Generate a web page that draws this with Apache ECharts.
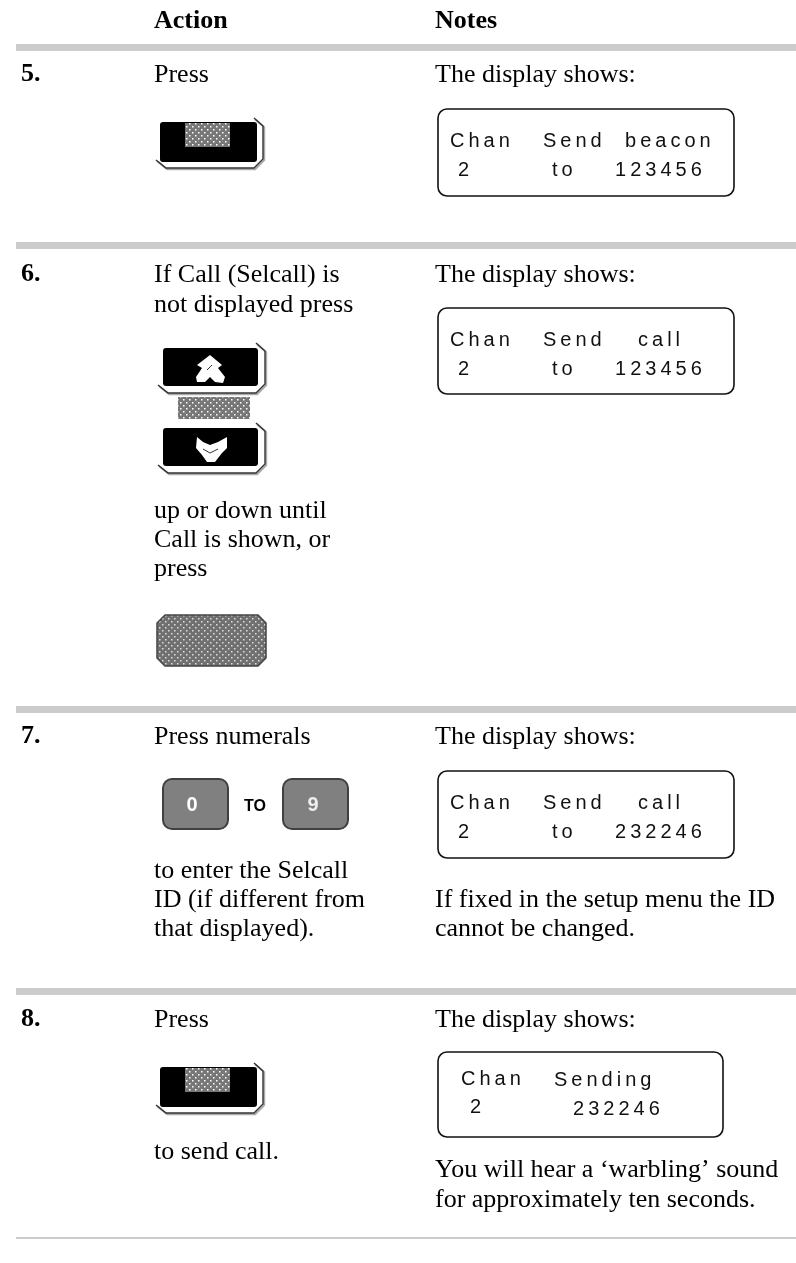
<!DOCTYPE html>
<html>
<head>
<meta charset="utf-8">
<style>html,body{margin:0;padding:0;background:#fff}#c{width:796px;height:1263px}</style>
<script src="https://cdn.jsdelivr.net/npm/echarts@6/dist/echarts.min.js"></script>
</head>
<body>
<div id="c"></div>
<script>
var headers = ['Action', 'Notes'];
var stepNumbers = ['5.', '6.', '7.', '8.'];
var actionLines = [
  ['Press'],
  ['If Call (Selcall) is', 'not displayed press'],
  ['up or down until', 'Call is shown, or', 'press'],
  ['Press numerals'],
  ['to enter the Selcall', 'ID (if different from', 'that displayed).'],
  ['Press'],
  ['to send call.']
];
var noteLines = [
  ['The display shows:'],
  ['The display shows:'],
  ['The display shows:'],
  ['If fixed in the setup menu the ID', 'cannot be changed.'],
  ['The display shows:'],
  ['You will hear a \u2018warbling\u2019 sound', 'for approximately ten seconds.']
];
var displayTexts = [
  ['Chan', 'Send', 'beacon', '2', 'to', '123456'],
  ['Chan', 'Send', 'call', '2', 'to', '123456'],
  ['Chan', 'Send', 'call', '2', 'to', '232246'],
  ['Chan', 'Sending', '', '2', '', '232246']
];
var keyLabels = ['0', 'TO', '9'];

var SERIF = '"Liberation Serif","Times New Roman",serif';
var SANS = '"Liberation Sans",Arial,sans-serif';
var FS = 26;
var els = [];

function spaced(s, sp) { return s.split('').join(sp); }
function text(x, y, s, size, weight, font, color, align) {
  els.push({type:'text', silent:true, x:x, y:y - size*0.32, style:{text:s, fill:color||'#000',
    font:(weight||'normal')+' '+size+'px '+font, textAlign:align||'left', textVerticalAlign:'middle'}});
}
function rect(x,y,w,h,style,r){
  els.push({type:'rect', silent:true, shape:{x:x,y:y,width:w,height:h,r:r||0}, style:style});
}
function poly(points,style,closed){
  els.push({type:closed?'polygon':'polyline', silent:true, shape:{points:points}, style:style});
}
function dotPattern(bg, dot, size){
  var c=document.createElement('canvas'); c.width=size; c.height=size;
  var g=c.getContext('2d'); g.fillStyle=bg; g.fillRect(0,0,size,size);
  g.fillStyle=dot; g.fillRect(0,0,1.5,1.5); g.fillRect(size/2,size/2,1.5,1.5);
  return {image:c, repeat:'repeat'};
}
var patA = dotPattern('#777777','#ffffff',6);
var patB = dotPattern('#707070','#dddddd',6);

function bracket(dx,dy){
  var pts=[[254,0],[263,8],[263,41],[254,50],[166,50],[156,42]];
  var shift=function(p,o){return [p[0]+dx+o,p[1]+dy+o];};
  poly(pts.map(function(p){return shift(p,1.2);}),{fill:'none',stroke:'#aaa',lineWidth:2});
  poly(pts.map(function(p){return shift(p,0);}),{fill:'none',stroke:'#333',lineWidth:1.4});
}
function softKey(dx,dy){
  rect(160+dx,122+dy,97,40,{fill:'#000'},3);
  bracket(dx,dy+118);
  rect(185+dx,123+dy,45,24,{fill:patA});
}
function arrowKey(y,pts,marks){
  rect(163,y,95,38,{fill:'#000'},3);
  bracket(2,y-5);
  poly(pts,{fill:'#fff'},true);
  poly(marks,{fill:'none',stroke:'#333',lineWidth:1});
}
function displayBox(y,w,h,vals,pos){
  rect(438,y,w,h,{fill:'#fff',stroke:'#111',lineWidth:1.6},9);
  var sp='\u2009';
  for(var i=0;i<6;i++){
    if(!vals[i]) continue;
    var p=pos[i];
    text(438+p[0],y+p[1],spaced(vals[i],sp),20,'normal',SANS,'#111');
  }
}
function serif(x,y,s){ text(x,y,s,FS,'normal',SERIF); }
function bold(x,y,s){ text(x,y,s,FS,'bold',SERIF); }

// rules
[44,242,706,988].forEach(function(y){ rect(16,y,780,7,{fill:'#cccccc'}); });
rect(16,1237,780,2,{fill:'#cccccc'});

// headers
bold(154,30,headers[0]);
bold(435,30,headers[1]);

// step numbers
bold(21,83,stepNumbers[0]);
bold(21,283,stepNumbers[1]);
bold(21,745,stepNumbers[2]);
bold(21,1028,stepNumbers[3]);

// action column
serif(154,83,actionLines[0][0]);
serif(154,283,actionLines[1][0]);
serif(154,313,actionLines[1][1]);
serif(154,519,actionLines[2][0]);
serif(154,548,actionLines[2][1]);
serif(154,577,actionLines[2][2]);
serif(154,745,actionLines[3][0]);
serif(154,879,actionLines[4][0]);
serif(154,908,actionLines[4][1]);
serif(154,937,actionLines[4][2]);
serif(154,1028,actionLines[5][0]);
serif(154,1160,actionLines[6][0]);

// notes column
serif(435,83,noteLines[0][0]);
serif(435,283,noteLines[1][0]);
serif(435,745,noteLines[2][0]);
serif(435,908,noteLines[3][0]);
serif(435,937,noteLines[3][1]);
serif(435,1028,noteLines[4][0]);
serif(435,1178,noteLines[5][0]);
serif(435,1208,noteLines[5][1]);

// soft keys
softKey(0,0);
softKey(0,945);

// arrow keys
arrowKey(348,[[210,355],[222,365],[218,368],[225,377],[223,383],[215,382],[210,377],[205,382],[197,382],[196,377],[202,368],[197,365]],[[207,370],[212,365]]);
rect(178,397,72,22,{fill:patA});
arrowKey(428,[[197,437],[203,442],[210,445],[218,442],[227,437],[227,448],[222,453],[215,462],[207,462],[202,455],[196,448]],[[203,449],[210,453],[218,449]]);

// large pattern key
poly([[165,615],[258,615],[266,623],[266,658],[258,666],[165,666],[157,658],[157,623]],
  {fill:patB,stroke:'#444',lineWidth:1.5},true);

// numeric keys
rect(163,779,65,50,{fill:'#808080',stroke:'#404040',lineWidth:2},9);
rect(283,779,65,50,{fill:'#808080',stroke:'#404040',lineWidth:2},9);
text(192,812,keyLabels[0],20,'bold',SANS,'#fff','center');
text(255,812,keyLabels[1],16,'bold',SANS,'#000','center');
text(313,812,keyLabels[2],20,'bold',SANS,'#eee','center');

// displays
displayBox(109,296,87,displayTexts[0],[[12,39],[105,39],[187,39],[20,68],[114,68],[177,68]]);
displayBox(308,296,86,displayTexts[1],[[12,39],[105,39],[200,39],[20,68],[114,68],[177,68]]);
displayBox(771,296,87,displayTexts[2],[[12,39],[105,39],[200,39],[20,68],[114,68],[177,68]]);
displayBox(1052,285,85,displayTexts[3],[[23,34],[116,35],[0,0],[32,62],[0,0],[135,64]]);

var chart=echarts.init(document.getElementById('c'),null,{renderer:'canvas'});
chart.setOption({animation:false,backgroundColor:'#fff',graphic:{elements:els}});
</script>
</body>
</html>
